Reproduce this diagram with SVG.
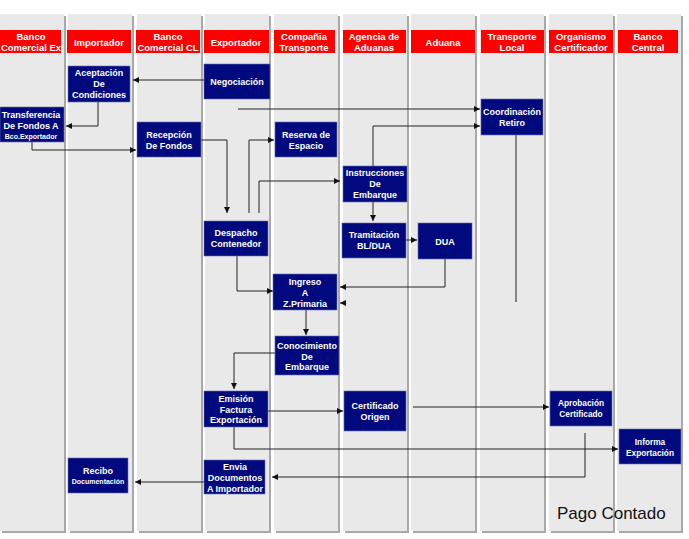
<svg xmlns="http://www.w3.org/2000/svg" width="689" height="539" viewBox="0 0 689 539">
  <style>
    .lane { fill: #e9e9e9; }
    .shade { fill: #a8a8a8; }
    .hdr { fill: #ff0000; }
    .ht { fill: #ffffff; font-family: "Liberation Sans", Arial, sans-serif; font-weight: bold; font-size: 9.5px; text-anchor: middle; }
    .box { fill: #000a7e; stroke: #6a6fb0; stroke-width: 0.6; }
    .nt { fill: #ffffff; font-family: "Liberation Sans", Arial, sans-serif; font-weight: bold; font-size: 9px; text-anchor: middle; }
    .sm { font-size: 7px; }
    .xs { font-size: 8.3px; }
    .wire { fill: none; stroke: #222222; stroke-width: 1; }
    .note { fill: #111111; font-family: "Liberation Sans", Arial, sans-serif; font-size: 17px; }
  </style>
  <defs>
    <marker id="arrow" viewBox="0 0 6 6" refX="6" refY="3" markerWidth="6" markerHeight="6" markerUnits="userSpaceOnUse" orient="auto">
      <path d="M0,0 L6,3 L0,6 z" fill="#111111"/>
    </marker>
  </defs>

  <rect x="0" y="0" width="689" height="539" fill="#ffffff"/>

  <!-- swimlanes: background column, right/bottom shading, red header -->
  <g id="lanes">
    <g id="lane-banco-comercial-ex">
      <rect class="shade" x="2" y="16" width="64" height="517"/>
      <rect class="lane" x="0" y="14" width="64" height="517"/>
      <rect class="hdr" x="0" y="30" width="61" height="23"/>
      <text class="ht" x="31" y="39.5">Banco</text>
      <text class="ht" x="31" y="51">Comercial Ex</text>
    </g>
    <g id="lane-importador">
      <rect class="shade" x="70" y="16" width="64" height="517"/>
      <rect class="lane" x="68" y="14" width="64" height="517"/>
      <rect class="hdr" x="67" y="30" width="64" height="23"/>
      <text class="ht" x="99" y="45.5">Importador</text>
    </g>
    <g id="lane-banco-comercial-cl">
      <rect class="shade" x="139" y="16" width="64" height="517"/>
      <rect class="lane" x="137" y="14" width="64" height="517"/>
      <rect class="hdr" x="136" y="30" width="64" height="23"/>
      <text class="ht" x="168" y="39.5">Banco</text>
      <text class="ht" x="168" y="51">Comercial CL</text>
    </g>
    <g id="lane-exportador">
      <rect class="shade" x="207" y="16" width="64" height="517"/>
      <rect class="lane" x="205" y="14" width="64" height="517"/>
      <rect class="hdr" x="204" y="30" width="65" height="23"/>
      <text class="ht" x="236" y="45.5">Exportador</text>
    </g>
    <g id="lane-compania-transporte">
      <rect class="shade" x="276" y="16" width="64" height="517"/>
      <rect class="lane" x="274" y="14" width="64" height="517"/>
      <rect class="hdr" x="274" y="30" width="61" height="23"/>
      <text class="ht" x="304" y="39.5">Compañia</text>
      <text class="ht" x="304" y="51">Transporte</text>
    </g>
    <g id="lane-agencia-aduanas">
      <rect class="shade" x="345" y="16" width="64" height="517"/>
      <rect class="lane" x="343" y="14" width="64" height="517"/>
      <rect class="hdr" x="343" y="30" width="63" height="23"/>
      <text class="ht" x="374" y="39.5">Agencia de</text>
      <text class="ht" x="374" y="51">Aduanas</text>
    </g>
    <g id="lane-aduana">
      <rect class="shade" x="413" y="16" width="64" height="517"/>
      <rect class="lane" x="411" y="14" width="64" height="517"/>
      <rect class="hdr" x="411" y="30" width="64" height="23"/>
      <text class="ht" x="443" y="45.5">Aduana</text>
    </g>
    <g id="lane-transporte-local">
      <rect class="shade" x="482" y="16" width="64" height="517"/>
      <rect class="lane" x="480" y="14" width="64" height="517"/>
      <rect class="hdr" x="481" y="30" width="63" height="23"/>
      <text class="ht" x="512" y="39.5">Transporte</text>
      <text class="ht" x="512" y="51">Local</text>
    </g>
    <g id="lane-organismo-certificador">
      <rect class="shade" x="551" y="16" width="64" height="517"/>
      <rect class="lane" x="549" y="14" width="64" height="517"/>
      <rect class="hdr" x="549" y="30" width="64" height="23"/>
      <text class="ht" x="581" y="39.5">Organismo</text>
      <text class="ht" x="581" y="51">Certificador</text>
    </g>
    <g id="lane-banco-central">
      <rect class="shade" x="619" y="16" width="64" height="517"/>
      <rect class="lane" x="617" y="14" width="64" height="517"/>
      <rect class="hdr" x="618" y="30" width="60" height="23"/>
      <text class="ht" x="648" y="39.5">Banco</text>
      <text class="ht" x="648" y="51">Central</text>
    </g>
  </g>

  <!-- connectors -->
  <g id="connectors" class="wire">
    <path d="M204,80 H133" marker-end="url(#arrow)"/>
    <path d="M98,102 V126 H66" marker-end="url(#arrow)"/>
    <path d="M32,142 V150 H136" marker-end="url(#arrow)"/>
    <path d="M238,109 H480" marker-end="url(#arrow)"/>
    <path d="M201,140 H227 V213" marker-end="url(#arrow)"/>
    <path d="M249,213 V140 H274" marker-end="url(#arrow)"/>
    <path d="M259,213 V181 H340" marker-end="url(#arrow)"/>
    <path d="M373,166 V126 H480" marker-end="url(#arrow)"/>
    <path d="M373,202 V221" marker-end="url(#arrow)"/>
    <path d="M406,240 H417" marker-end="url(#arrow)"/>
    <path d="M445,259 V287 H340" marker-end="url(#arrow)"/>
    <path d="M516,135 V302"/>
    <path d="M345,303 H340" marker-end="url(#arrow)"/>
    <path d="M237,256 V291 H273" marker-end="url(#arrow)"/>
    <path d="M306,310 V335" marker-end="url(#arrow)"/>
    <path d="M275,353 H234 V389" marker-end="url(#arrow)"/>
    <path d="M268,411 H343" marker-end="url(#arrow)"/>
    <path d="M413,407 H549" marker-end="url(#arrow)"/>
    <path d="M234,427 V449 H618" marker-end="url(#arrow)"/>
    <path d="M585,433 V477 H272" marker-end="url(#arrow)"/>
    <path d="M204,482 H135" marker-end="url(#arrow)"/>
  </g>

  <!-- process steps -->
  <g id="aceptacion">
    <rect class="box" x="68" y="66" width="62" height="36"/>
    <text class="nt" x="99" y="76">Aceptación</text>
    <text class="nt" x="99" y="87">De</text>
    <text class="nt" x="99" y="97.5">Condiciones</text>
  </g>
  <g id="negociacion">
    <rect class="box" x="204" y="64" width="66" height="35"/>
    <text class="nt" x="237" y="85">Negociación</text>
  </g>
  <g id="transferencia">
    <rect class="box" x="0" y="107" width="64" height="35"/>
    <text class="nt" x="31" y="117.5">Transferencia</text>
    <text class="nt" x="31" y="128.5">De Fondos A</text>
    <text class="nt sm" x="31" y="138.5">Bco.Exportador</text>
  </g>
  <g id="recepcion">
    <rect class="box" x="137" y="122" width="64" height="35"/>
    <text class="nt" x="169" y="137.5">Recepción</text>
    <text class="nt" x="169" y="148.5">De Fondos</text>
  </g>
  <g id="reserva">
    <rect class="box" x="275" y="122" width="62" height="35"/>
    <text class="nt" x="306" y="137.5">Reserva de</text>
    <text class="nt" x="306" y="148.5">Espacio</text>
  </g>
  <g id="coordinacion">
    <rect class="box" x="481" y="99" width="62" height="36"/>
    <text class="nt" x="512" y="115">Coordinación</text>
    <text class="nt" x="512" y="126">Retiro</text>
  </g>
  <g id="instrucciones">
    <rect class="box" x="343" y="166" width="64" height="36"/>
    <text class="nt" x="375" y="176">Instrucciones</text>
    <text class="nt" x="375" y="187">De</text>
    <text class="nt" x="375" y="197.5">Embarque</text>
  </g>
  <g id="despacho">
    <rect class="box" x="204" y="221" width="64" height="35"/>
    <text class="nt" x="236" y="236">Despacho</text>
    <text class="nt" x="236" y="246.5">Contenedor</text>
  </g>
  <g id="tramitacion">
    <rect class="box" x="342" y="223" width="64" height="35"/>
    <text class="nt" x="374" y="237.5">Tramitación</text>
    <text class="nt" x="374" y="249">BL/DUA</text>
  </g>
  <g id="dua">
    <rect class="box" x="418" y="223" width="54" height="36"/>
    <text class="nt" x="445" y="244.5">DUA</text>
  </g>
  <g id="ingreso">
    <rect class="box" x="273" y="274" width="64" height="36"/>
    <text class="nt" x="305" y="285">Ingreso</text>
    <text class="nt" x="305" y="296">A</text>
    <text class="nt" x="305" y="306.5">Z.Primaria</text>
  </g>
  <g id="conocimiento">
    <rect class="box" x="275" y="336" width="64" height="39"/>
    <text class="nt" x="307" y="349">Conocimiento</text>
    <text class="nt" x="307" y="359.5">De</text>
    <text class="nt" x="307" y="370">Embarque</text>
  </g>
  <g id="emision">
    <rect class="box" x="204" y="391" width="64" height="36"/>
    <text class="nt" x="236" y="402">Emisión</text>
    <text class="nt" x="236" y="412.5">Factura</text>
    <text class="nt" x="236" y="422.5">Exportación</text>
  </g>
  <g id="certificado">
    <rect class="box" x="344" y="391" width="62" height="40"/>
    <text class="nt" x="375" y="409">Certificado</text>
    <text class="nt" x="375" y="420">Origen</text>
  </g>
  <g id="aprobacion">
    <rect class="box" x="550" y="391" width="62" height="35"/>
    <text class="nt xs" x="581" y="406">Aprobación</text>
    <text class="nt xs" x="581" y="417">Certificado</text>
  </g>
  <g id="informa">
    <rect class="box" x="619" y="429" width="62" height="35"/>
    <text class="nt xs" x="650" y="445">Informa</text>
    <text class="nt xs" x="650" y="456">Exportación</text>
  </g>
  <g id="envia">
    <rect class="box" x="204" y="460" width="61" height="34"/>
    <text class="nt" x="235" y="470">Envia</text>
    <text class="nt" x="235" y="481">Documentos</text>
    <text class="nt" x="235" y="492">A Importador</text>
  </g>
  <g id="recibo">
    <rect class="box" x="68" y="458" width="60" height="35"/>
    <text class="nt" x="98" y="474">Recibo</text>
    <text class="nt sm" x="98" y="483.5">Documentación</text>
  </g>

  <text class="note" x="557" y="519">Pago Contado</text>
</svg>
